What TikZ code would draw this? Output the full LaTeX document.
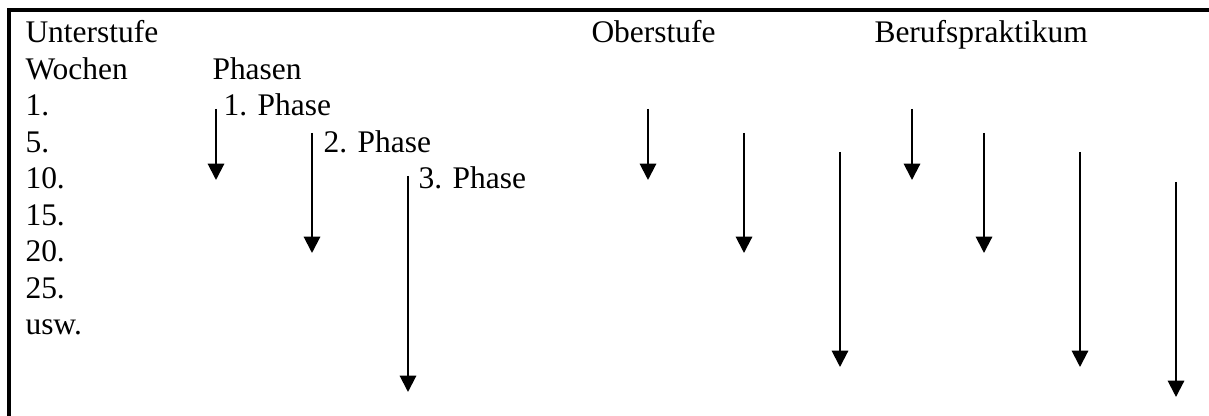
\documentclass[tikz,border=0pt]{standalone}
\usepackage{fontspec}
\setmainfont{Liberation Serif}
\usetikzlibrary{arrows.meta}

\begin{document}
\begin{tikzpicture}[x=0.3846pt,y=-0.3846pt,font=\fontsize{12.1}{14}\selectfont,
  txt/.style={anchor=base west,inner sep=0pt},
  pfeil/.style={-{Triangle[length=6.3pt,width=6.3pt]},line width=0.8pt},
  rahmen/.style={line width=1.25pt}]
\useasboundingbox (0,0) rectangle (1209,416);
% Tabellenrand (oben und links)
\draw[rahmen] (1209,10) -- (9,10) -- (9,416);
% Kopfzeile
\node[txt] (unter) at (25,43) {Unterstufe};
\node[txt] (ober) at (591,43) {Oberstufe};
\node[txt] (beruf) at (874,43) {Berufspraktikum};
\node[txt] (wochen) at (25,80) {Wochen};
\node[txt] (phasen) at (212,80) {Phasen};
% Wochen
\foreach \w/\y in {1./116,5./153,10./189,15./226,20./262,25./299,usw./335}
  \node[txt] (w\y) at (25,\y) {\w};
% Phasen
\node[txt] (ph1) at (223,116) {1. Phase};
\node[txt] (ph2) at (323,153) {2. Phase};
\node[txt] (ph3) at (418,189) {3. Phase};
% Pfeile
\foreach \i/\x/\a/\b in {1/216/109/180,2/312/133/253,3/408/176/392,
    4/648/109/180,5/744/133/253,6/840/152/367,
    7/912/109/180,8/984/133/253,9/1080/152/367,10/1176/182/397}{
  \coordinate (s\i) at (\x,\a);
  \coordinate (e\i) at (\x,\b);
  \draw[pfeil] (s\i) -- (e\i);
}
\end{tikzpicture}
\end{document}
